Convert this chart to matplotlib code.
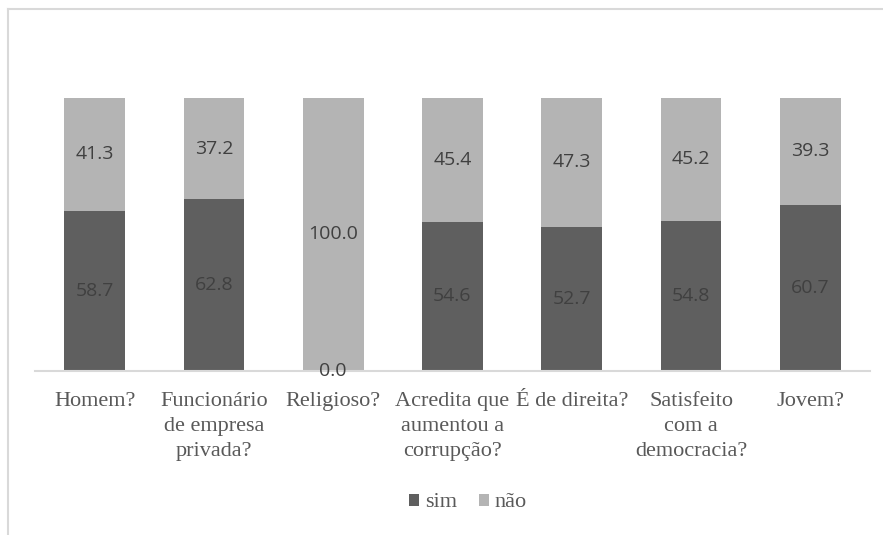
#!/usr/bin/env python
"""stacked sim / nao bars, Excel-like look"""

import numpy as np
import matplotlib
matplotlib.use('Agg')
import matplotlib.pyplot as plt
from matplotlib.lines import Line2D

categories = ['Homem?', 'Funcionário\nde empresa\nprivada?', 'Religioso?',
              'Acredita que\naumentou a\ncorrupção?', 'É de direita?',
              'Satisfeito\ncom a\ndemocracia?', 'Jovem?']
sim = [58.7, 62.8, 0.0, 54.6, 52.7, 54.8, 60.7]
nao = [41.3, 37.2, 100.0, 45.4, 47.3, 45.2, 39.3]

DARK = '#5f5f5f'
LIGHT = '#b4b4b4'
TEXT = '#595959'
LABEL = '#404040'
SERIF = ['Liberation Serif', 'DejaVu Serif']
SANS = ['Open Sans', 'DejaVu Sans']

W, H = 883, 535
fig = plt.figure(figsize=(W / 100, H / 100), dpi=100)
ax = fig.add_axes([35 / W, 1 - 371 / H, (870 - 35) / W, (371 - 43) / H])

x = np.arange(len(categories))
b1 = ax.bar(x, sim, width=0.51, color=DARK, label='sim')
b2 = ax.bar(x, nao, width=0.51, bottom=sim, color=LIGHT, label='não')

for xi, s, n in zip(x, sim, nao):
    ax.text(xi, s / 2, '%.1f' % s, ha='center', va='center',
            fontsize=14, color=LABEL, family=SANS)
    ax.text(xi, s + n / 2, '%.1f' % n, ha='center', va='center',
            fontsize=14, color=LABEL, family=SANS)

ax.set_xlim(-0.5, len(categories) - 0.5)
ax.set_ylim(0, 120)
ax.set_yticks([])
ax.set_xticks(x)
ax.set_xticklabels(categories, family=SERIF, fontsize=16, color=TEXT,
                   linespacing=1.42, va='top')
ax.tick_params(axis='x', length=0, pad=15)
for s in ['top', 'right', 'left']:
    ax.spines[s].set_visible(False)
ax.spines['bottom'].set_color('#d9d9d9')
ax.spines['bottom'].set_linewidth(1.5)

fig.legend(handles=[b1, b2], labels=['sim', 'não'], loc='center',
           bbox_to_anchor=(468 / W, 1 - 503 / H), ncol=2, frameon=False,
           prop={'family': SERIF, 'size': 16}, labelcolor=TEXT,
           handlelength=0.45, handleheight=0.45, handletextpad=0.25,
           columnspacing=1.0)

# chart frame (cropped on the right and bottom)
fig.add_artist(Line2D([8 / W, 1], [1 - 9 / H, 1 - 9 / H], color='#d9d9d9', lw=1.5))
fig.add_artist(Line2D([8 / W, 8 / W], [0, 1 - 9 / H], color='#d9d9d9', lw=1.5))

plt.savefig('out.png', dpi=100)
